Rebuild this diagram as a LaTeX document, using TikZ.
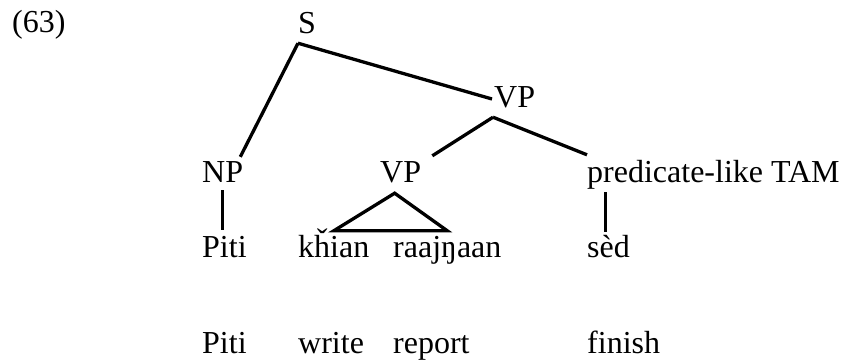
\documentclass[tikz,border=0pt]{standalone}
\usepackage{fontspec}
\setmainfont{Liberation Serif}
\usetikzlibrary{positioning,calc}
\tikzset{
  word/.style={inner sep=0pt, anchor=base west, text height=23pt, text depth=7pt,
               font=\fontsize{32}{38}\selectfont},
  branch/.style={line width=3.3pt, draw=black},
}

\begin{document}
\begin{tikzpicture}[x=1pt,y=-1pt]
  \useasboundingbox (0,0) rectangle (843,360);
  \node[word] (num)   at (12,32)  {(63)};
  \node[word] (s)     at (298,33) {S};
  \node[word] (vpt)   at (494,107) {VP};
  \node[word] (np)    at (202,182) {NP};
  \node[word] (vpl)   at (380,182) {VP};
  \node[word] (tam)   at (587,182) {predicate-like TAM};
  \node[word] (piti)  at (202,257) {Piti};
  \node[word] (khian) at (298,257) {kȟian};
  \node[word] (raaj)  at (393,257) {raajŋaan};
  \node[word] (sed)   at (587,257) {sèd};
  % glosses
  \foreach \n/\x/\t in {gpiti/202/Piti, gkhian/298/write, graaj/393/report, gsed/587/finish}
    \node[word] (\n) at (\x,353) {\t};
  % branches
  \coordinate (sfoot) at ([yshift=-3pt]s.south west);
  \coordinate (vfoot) at ([shift={(-1pt,-3pt)}]vpt.south west);
  \draw[branch] (sfoot) -- ([shift={(-3pt,2pt)}]np.north east);
  \draw[branch] (sfoot) -- ([xshift=-2pt]vpt.west);
  \draw[branch] (vfoot) -- ([shift={(11pt,3pt)}]vpl.north east);
  \draw[branch] (vfoot) -- ([yshift=4pt]tam.north west);
  \draw[branch] ([yshift=-1pt]np.south) -- ($(np.south |- piti.north)+(0,-4)$);
  \draw[branch] ([shift={(-6pt,-4pt)}]vpl.south) -- ([yshift=3pt]khian.north)
                -- ([yshift=3pt]raaj.north) -- cycle;
  \draw[branch] ($(sed.north |- tam.south)+(-3,3)$) -- ([shift={(-3pt,2pt)}]sed.north);
\end{tikzpicture}
\end{document}
